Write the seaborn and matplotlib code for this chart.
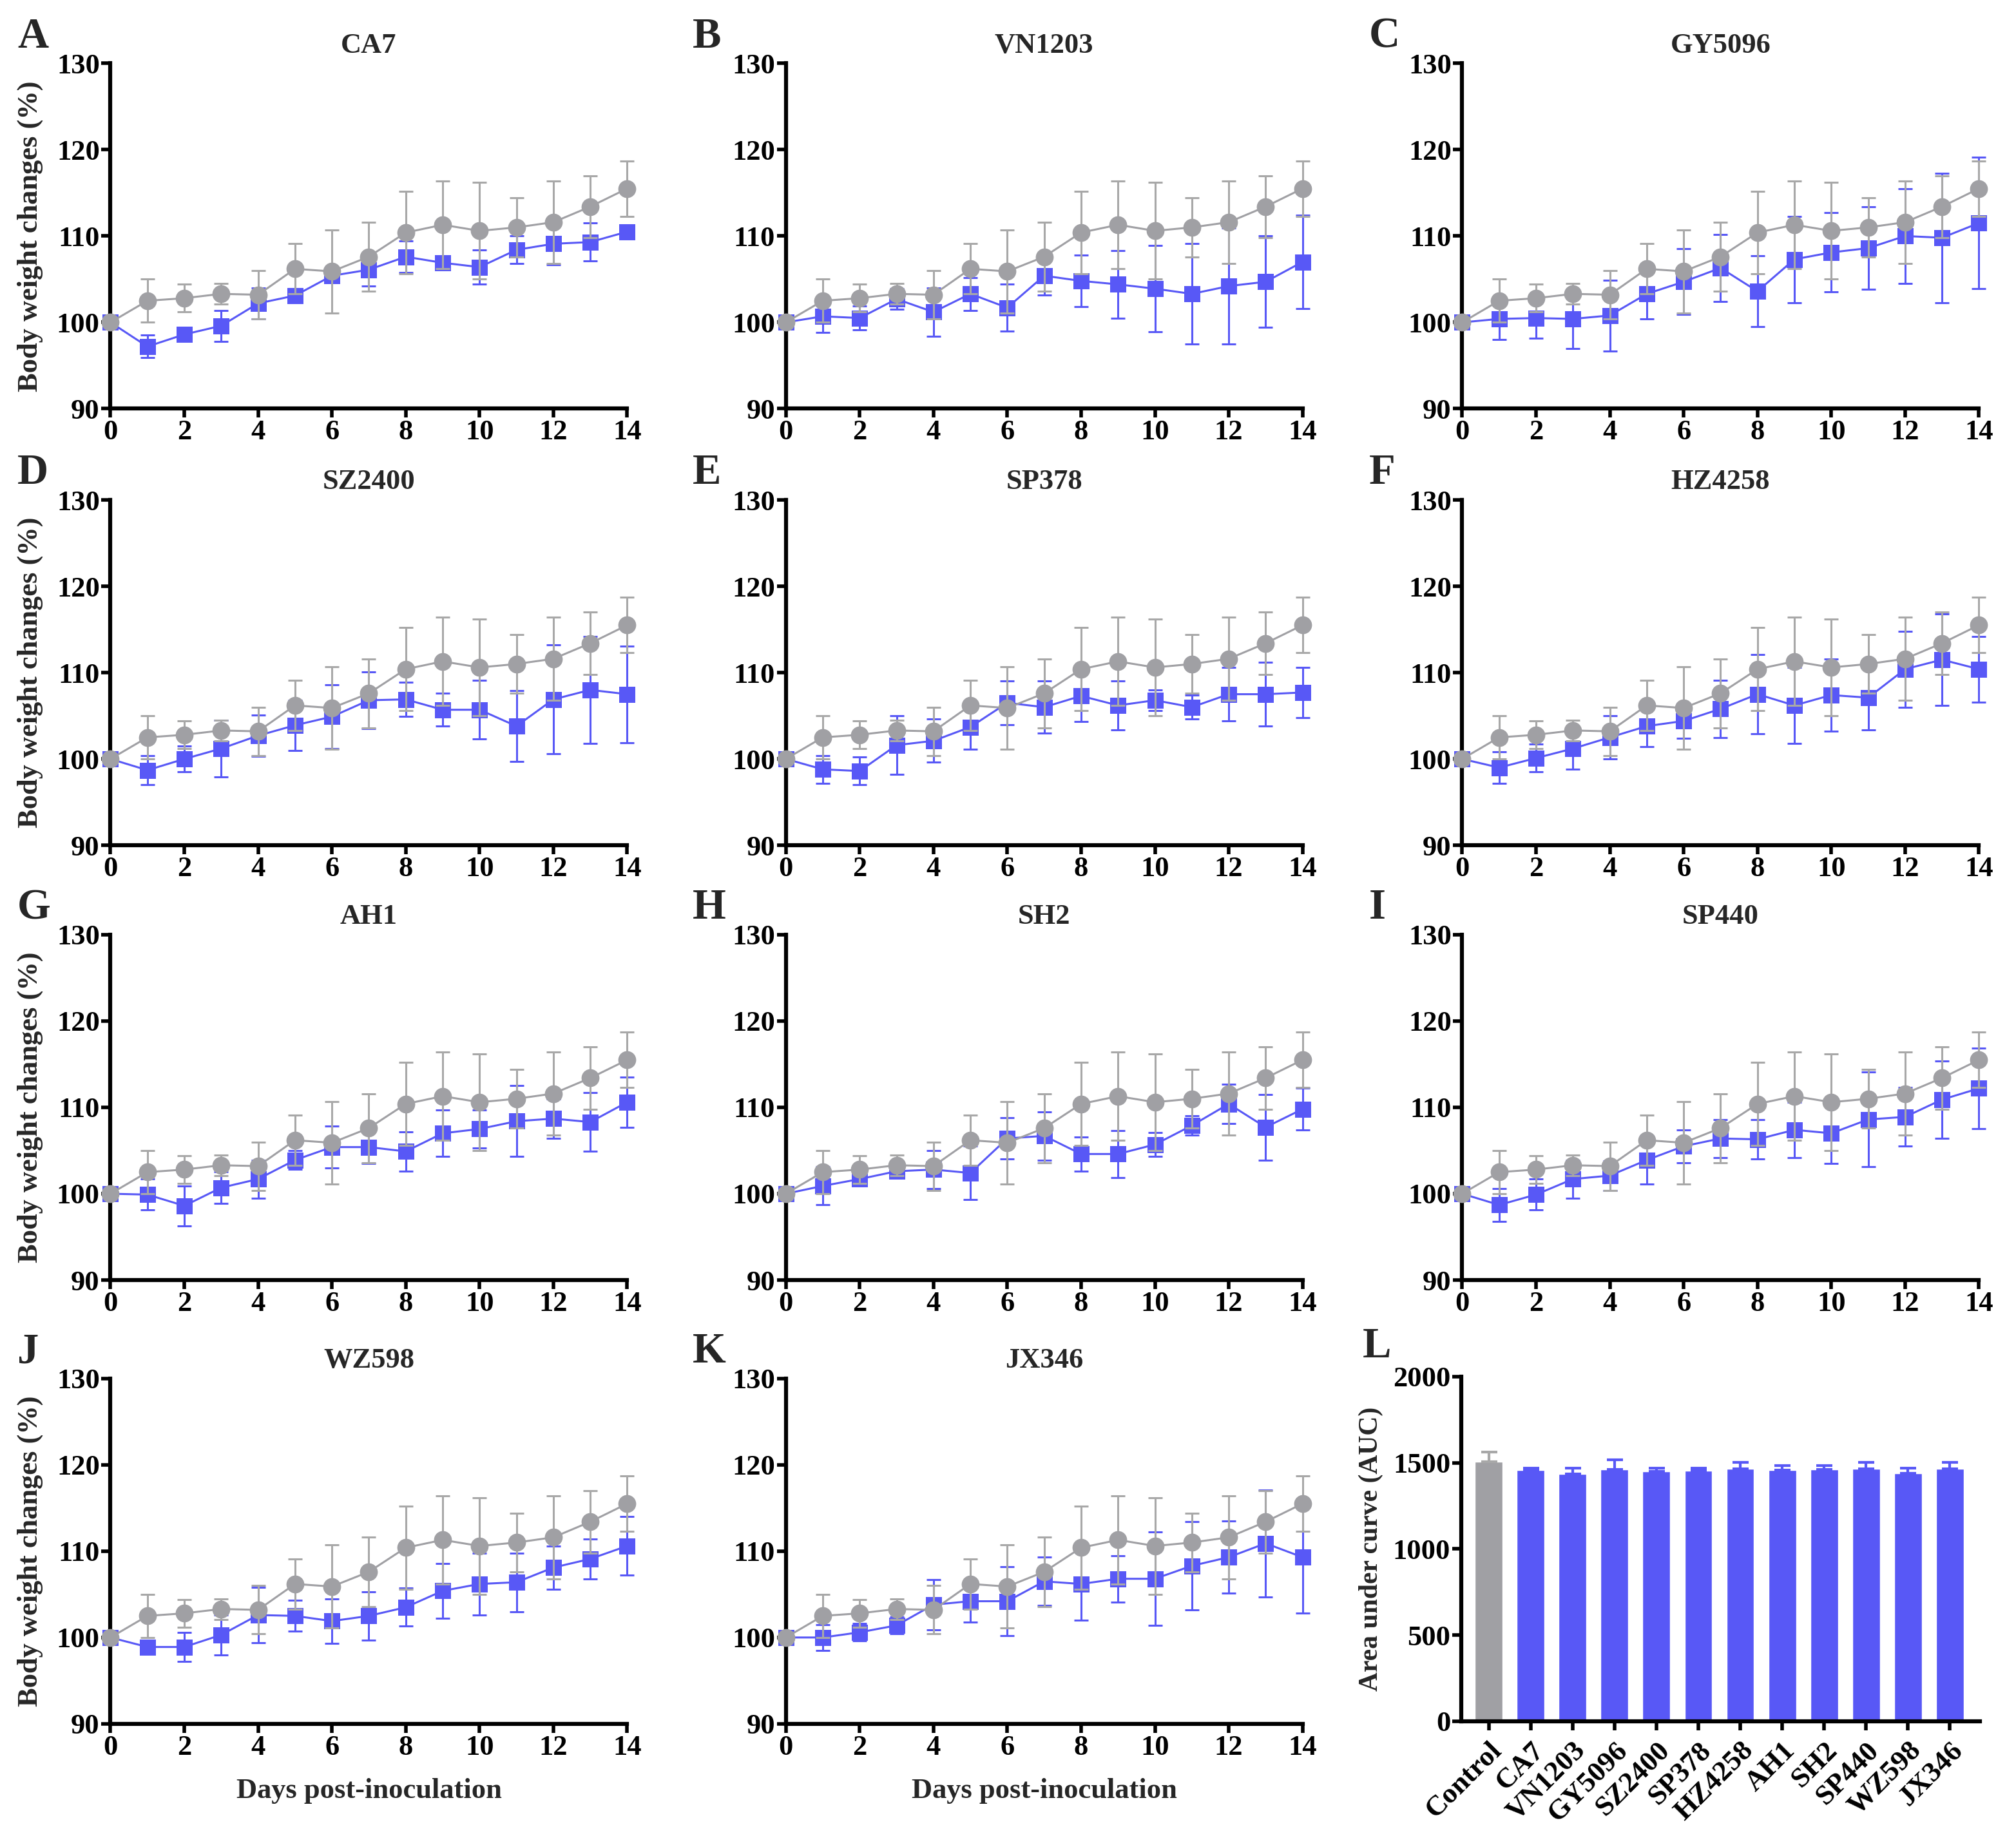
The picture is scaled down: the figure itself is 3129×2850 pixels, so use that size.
import numpy as np
import pandas as pd
import matplotlib
matplotlib.use('Agg')
import matplotlib.pyplot as plt
import seaborn as sns

days = list(range(15))

ctrl_mean = [100, 102.5, 102.8, 103.3, 103.2, 106.2, 105.9, 107.6, 110.4, 111.3, 110.6, 111.0, 111.6, 113.4, 115.5]
ctrl_sd = [0, 2.5, 1.6, 1.2, 2.8, 2.9, 4.8, 4.0, 4.8, 5.1, 5.6, 3.4, 4.8, 3.6, 3.2]

ca7_mean = [100, 97.2, 98.6, 99.6, 102.2, 103.1, 105.4, 106.1, 107.6, 106.9, 106.4, 108.4, 109.1, 109.3, 110.5]
ca7_sd = [0, 1.3, 0.6, 1.8, 1.8, 0.8, 0.6, 1.9, 1.8, 0.5, 2.0, 1.6, 2.4, 2.2, 0.8]
vn1203_mean = [100, 100.7, 100.5, 102.7, 101.2, 103.3, 101.7, 105.4, 104.8, 104.4, 103.9, 103.3, 104.2, 104.7, 107.0]
vn1203_sd = [0, 1.9, 1.4, 1.2, 2.8, 1.9, 2.7, 2.2, 3.0, 3.9, 5.0, 5.8, 6.7, 5.3, 5.4]
gy5096_mean = [100, 100.4, 100.5, 100.4, 100.8, 103.3, 104.7, 106.3, 103.6, 107.3, 108.1, 108.6, 110.0, 109.8, 111.5]
gy5096_sd = [0, 2.4, 2.3, 3.4, 4.1, 2.9, 3.8, 3.9, 4.1, 5.0, 4.6, 4.8, 5.5, 7.5, 7.6]
sz2400_mean = [100, 98.7, 100.0, 101.2, 102.7, 103.9, 104.9, 106.8, 106.9, 105.7, 105.7, 103.8, 106.9, 108.0, 107.5]
sz2400_sd = [0, 1.7, 1.5, 3.3, 2.4, 2.9, 3.7, 3.3, 2.0, 1.9, 3.4, 4.1, 6.3, 6.2, 5.6]
sp378_mean = [100, 98.8, 98.6, 101.6, 102.1, 103.7, 106.5, 106.0, 107.3, 106.2, 106.8, 106.0, 107.5, 107.5, 107.7]
sp378_sd = [0, 1.6, 1.6, 3.4, 2.5, 2.6, 2.5, 3.0, 3.0, 2.8, 1.2, 1.4, 3.1, 3.7, 2.9]
hz4258_mean = [100, 99.0, 100.1, 101.2, 102.5, 103.8, 104.4, 105.8, 107.5, 106.2, 107.4, 107.1, 110.4, 111.5, 110.4]
hz4258_sd = [0, 1.8, 1.6, 2.4, 2.5, 2.4, 2.0, 3.3, 4.6, 4.4, 4.2, 3.7, 4.4, 5.3, 3.8]
ah1_mean = [100, 99.9, 98.6, 100.7, 101.7, 103.9, 105.4, 105.4, 104.9, 107.0, 107.5, 108.4, 108.7, 108.3, 110.6]
ah1_sd = [0, 1.8, 2.3, 1.8, 2.2, 1.1, 2.4, 1.9, 2.3, 2.7, 2.2, 4.1, 2.3, 3.4, 2.9]
sh2_mean = [100, 100.9, 101.7, 102.6, 102.8, 102.4, 106.4, 106.7, 104.6, 104.6, 105.7, 107.9, 110.4, 107.7, 109.8]
sh2_sd = [0, 2.2, 0.6, 0.5, 2.2, 3.1, 2.4, 2.8, 2.0, 2.7, 1.4, 1.1, 2.3, 3.8, 2.4]
sp440_mean = [100, 98.7, 99.9, 101.7, 102.1, 103.9, 105.5, 106.4, 106.3, 107.4, 107.0, 108.6, 108.9, 110.9, 112.2]
sp440_sd = [0, 1.9, 1.8, 2.2, 1.7, 2.8, 1.9, 2.2, 2.3, 3.2, 3.5, 5.5, 3.4, 4.5, 4.7]
wz598_mean = [100, 98.9, 98.9, 100.3, 102.6, 102.5, 101.9, 102.5, 103.5, 105.4, 106.2, 106.4, 108.1, 109.1, 110.6]
wz598_sd = [0, 0.8, 1.7, 2.3, 3.2, 1.8, 2.6, 2.8, 2.2, 3.2, 3.6, 3.4, 2.5, 2.3, 3.4]
jx346_mean = [100, 100.0, 100.6, 101.4, 103.8, 104.2, 104.2, 106.5, 106.2, 106.8, 106.8, 108.3, 109.3, 110.9, 109.3]
jx346_sd = [0, 1.5, 1.0, 1.0, 2.9, 2.4, 4.0, 2.8, 4.2, 2.7, 5.4, 5.1, 4.2, 6.2, 6.5]

strains = ['CA7', 'VN1203', 'GY5096', 'SZ2400', 'SP378', 'HZ4258',
           'AH1', 'SH2', 'SP440', 'WZ598', 'JX346']
panel_letters = ['A', 'B', 'C', 'D', 'E', 'F', 'G', 'H', 'I', 'J', 'K', 'L']

auc_groups = ['Control'] + strains
auc_mean = [1508, 1457, 1436, 1461, 1451, 1455, 1464, 1457, 1463, 1464, 1438, 1464]
auc_sd = [53, 13, 34, 57, 19, 15, 40, 26, 22, 38, 32, 38]

series = [(ca7_mean, ca7_sd), (vn1203_mean, vn1203_sd), (gy5096_mean, gy5096_sd),
          (sz2400_mean, sz2400_sd), (sp378_mean, sp378_sd), (hz4258_mean, hz4258_sd),
          (ah1_mean, ah1_sd), (sh2_mean, sh2_sd), (sp440_mean, sp440_sd),
          (wz598_mean, wz598_sd), (jx346_mean, jx346_sd)]

BLUE = '#5858f6'
GREY = '#a0a0a4'
GREY_ERR = '#a8a8a8'

sns.set_theme(style='ticks')
plt.rcParams['font.family'] = ['Liberation Serif', 'DejaVu Serif']
plt.rcParams['font.weight'] = 'bold'
plt.rcParams['axes.labelweight'] = 'bold'
plt.rcParams['axes.titleweight'] = 'bold'

FS = 32
fig = plt.figure(figsize=(31.29, 28.5), dpi=100)

col_left = [0.0548, 0.3898, 0.7253]
row_bottom = [0.7774, 0.5396, 0.3028, 0.0611]
W, H = 0.2563, 0.1881


def style_axis(ax):
    for side in ['top', 'right']:
        ax.spines[side].set_visible(False)
    for side in ['left', 'bottom']:
        ax.spines[side].set_linewidth(4.5)
        ax.spines[side].set_color('black')
    ax.tick_params(axis='both', length=10, width=4, labelsize=FS, pad=2, colors='black')
    for lab in ax.get_xticklabels() + ax.get_yticklabels():
        lab.set_fontweight('bold')


for i, name in enumerate(strains):
    r, c = divmod(i, 3)
    ax = fig.add_axes([col_left[c], row_bottom[r], W, H])
    m, s = series[i]

    # infected group (blue squares), control drawn on top (grey circles)
    ax.errorbar(days, m, yerr=s, fmt='none', ecolor=BLUE, elinewidth=2.2,
                capsize=8, capthick=2.2, zorder=2, clip_on=False)
    sns.lineplot(x=days, y=m, ax=ax, color=BLUE, marker='s', markersize=18,
                 markeredgewidth=0, linewidth=2.2, zorder=3, clip_on=False)
    ax.errorbar(days, ctrl_mean, yerr=ctrl_sd, fmt='none', ecolor=GREY_ERR,
                elinewidth=2.2, capsize=8, capthick=2.2, zorder=4, clip_on=False)
    sns.lineplot(x=days, y=ctrl_mean, ax=ax, color=GREY, marker='o', markersize=20,
                 markeredgewidth=0, linewidth=2.2, zorder=5, clip_on=False)

    ax.set_xlim(0, 14)
    ax.set_ylim(90, 130)
    ax.set_xticks(range(0, 15, 2))
    ax.set_yticks([90, 100, 110, 120, 130])
    style_axis(ax)
    ax.set_title(name, fontsize=FS, fontweight='bold', pad=12)
    ax.text(-0.18, 1.02, panel_letters[i], transform=ax.transAxes,
            fontsize=48, fontweight='bold', va='bottom', ha='left')
    if c == 0:
        ax.set_ylabel('Body weight changes (%)', fontsize=FS, fontweight='bold')
        ax.yaxis.set_label_coords(-0.13, 0.5)
    else:
        ax.set_ylabel('')
    if r == 3:
        ax.set_xlabel('Days post-inoculation', fontsize=FS, fontweight='bold', labelpad=20)
    else:
        ax.set_xlabel('')

# panel L - AUC bars
axl = fig.add_axes([0.7248, 0.0625, 0.2573, 0.1877])
auc_df = pd.DataFrame({'group': auc_groups, 'auc': auc_mean})
bar_colors = [GREY] + [BLUE] * len(strains)
sns.barplot(data=auc_df, x='group', y='auc', hue='group', palette=bar_colors,
            legend=False, errorbar=None, width=0.66, ax=axl, saturation=1)
err_colors = [GREY_ERR] + [BLUE] * len(strains)
for k in range(len(auc_groups)):
    axl.errorbar(k, auc_mean[k], yerr=[[0], [auc_sd[k]]], fmt='none',
                 ecolor=err_colors[k], elinewidth=3, capsize=9, capthick=3, zorder=3)
axl.set_xlim(-0.66, 11.72)
axl.set_ylim(0, 2000)
axl.set_yticks([0, 500, 1000, 1500, 2000])
style_axis(axl)
axl.set_xticks(range(len(auc_groups)))
axl.set_xticklabels(auc_groups, rotation=45, ha='right', rotation_mode='anchor',
                    fontsize=FS, fontweight='bold')
axl.tick_params(axis='x', pad=8)
axl.set_xlabel('')
axl.set_ylabel('Area under curve (AUC)', fontsize=FS - 2, fontweight='bold')
axl.yaxis.set_label_coords(-0.15, 0.5)
axl.text(-0.19, 1.03, 'L', transform=axl.transAxes, fontsize=48,
         fontweight='bold', va='bottom', ha='left')

fig.savefig('out.png', dpi=100, facecolor='white')
